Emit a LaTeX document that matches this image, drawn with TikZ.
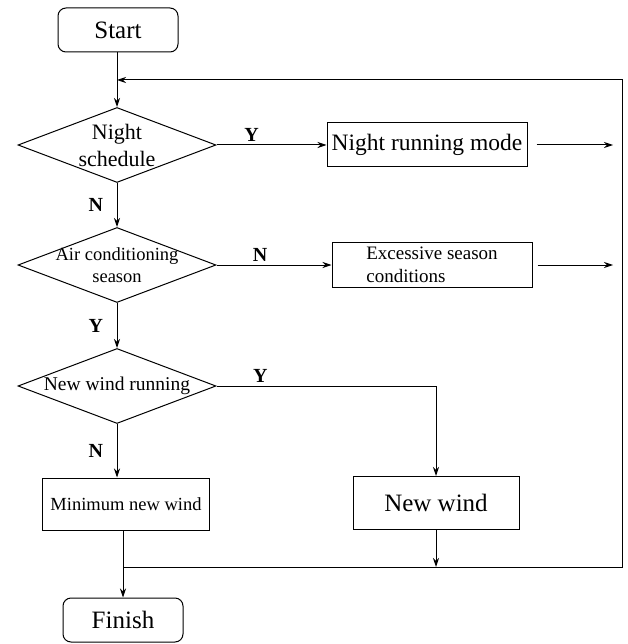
\documentclass[tikz,border=0pt]{standalone}
\usepackage{fontspec}
\setmainfont{Liberation Serif}
\usetikzlibrary{shapes.geometric,arrows.meta}
\begin{document}
\begin{tikzpicture}[x=1pt,y=-1pt,line width=1pt,
  term/.style={draw,rounded corners=8pt,minimum width=120pt,minimum height=44pt,inner sep=0pt,font=\fontsize{25}{29}\selectfont},
  decide/.style={draw,diamond,inner xsep=-40pt,inner ysep=-25pt,minimum width=198pt,minimum height=75pt,align=center},
  box/.style={draw,rectangle,inner sep=0pt,align=center},
  yn/.style={font=\bfseries\fontsize{20}{24}\selectfont},
  flow/.style={-{Stealth[length=9pt,width=6pt]}}]
\useasboundingbox (0,0) rectangle (627,644);
\node[term] (start) at (118,30) {Start};
\coordinate (loop) at (117,80);
\node[decide,font=\fontsize{22}{27}\selectfont] (sched) at (117,145) {Night\\schedule};
\node[box,minimum width=200pt,minimum height=44pt,font=\fontsize{23.5}{27}\selectfont] (nightmode) at (427,145) {Night running mode};
\node[decide,font=\fontsize{18.5}{22}\selectfont] (acseason) at (117,265) {Air conditioning\\season};
\node[box,minimum width=200pt,minimum height=45pt,font=\fontsize{19}{23}\selectfont,align=left] (transit) at (432,265) {Excessive season\\conditions};
\node[decide,font=\fontsize{19.5}{23}\selectfont] (newrun) at (117,386) {New wind running};
\node[box,minimum width=167pt,minimum height=52pt,font=\fontsize{18.5}{22}\selectfont] (minwind) at (126,504) {Minimum new wind};
\node[box,minimum width=166pt,minimum height=53pt,font=\fontsize{25}{29}\selectfont] (newwind) at (436,503) {New wind};
\node[term] (finish) at (123,620) {Finish};
\coordinate (join) at (123,567);
\coordinate (rb) at (622,567);
\coordinate (rt) at (622,80);
\draw[flow] (start.south -| sched.north) -- (sched);
\draw[flow] (join) -- (rb) -- (rt) -- (loop);
\draw[flow] (sched) -- node[yn,above,pos=.32]{Y} (nightmode);
\draw[flow] (sched) -- node[yn,left=10pt]{N} (acseason);
\draw[flow] (acseason) -- node[yn,above,pos=.38]{N} (transit);
\draw[flow] (acseason) -- node[yn,left=10pt]{Y} (newrun);
\draw[flow] (newrun) -| node[yn,above,pos=.1]{Y} (newwind);
\draw[flow] (newrun) -- node[yn,left=10pt]{N} (newrun.south |- minwind.north);
\draw[flow] (newwind) -- (newwind |- rb);
\draw[flow] (minwind.south -| finish) -- (finish);
\draw[flow,shorten <=9pt,shorten >=9pt] (nightmode) -- (nightmode -| rt);
\draw[flow,shorten <=5pt,shorten >=9pt] (transit) -- (transit -| rt);
\end{tikzpicture}
\end{document}
